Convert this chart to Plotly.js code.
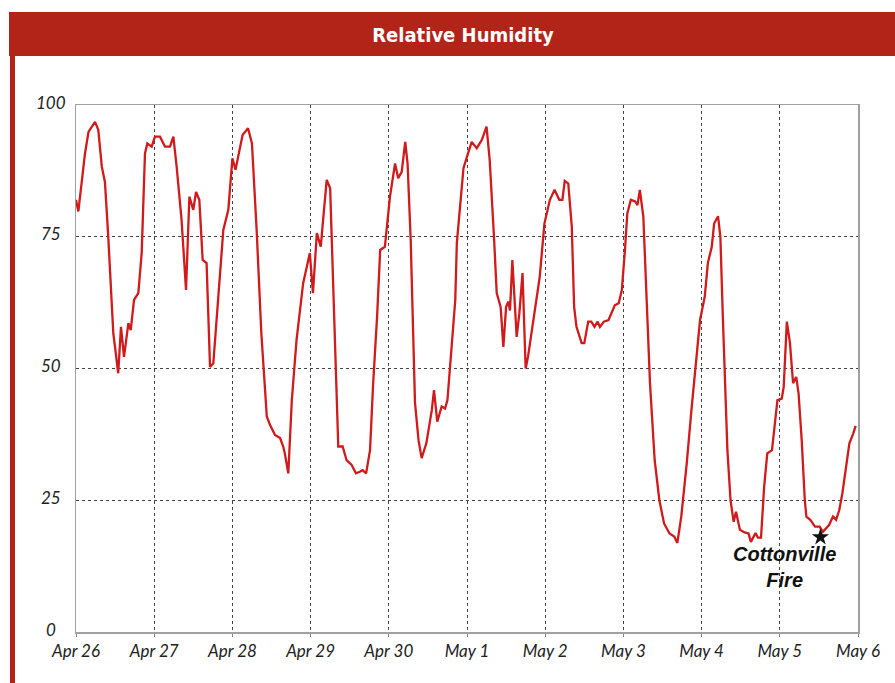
<!DOCTYPE html>
<html>
<head>
<meta charset="utf-8">
<script src="https://cdn.plot.ly/plotly-3.0.1.min.js"></script>
<style>
  html, body { margin: 0; padding: 0; background: #ffffff; }
  #chart { width: 895px; height: 683px; }
</style>
</head>
<body>
<div id="chart"></div>
<script>
// Time in days since Apr 26 00:00
var timeDays = [
  0.0, 0.03, 0.115, 0.16, 0.243, 0.285, 0.33, 0.37, 0.41, 0.477, 0.54, 0.575, 0.614, 0.67, 0.7, 0.742, 0.797, 0.84,
  0.882, 0.912, 0.968, 1.01, 1.074, 1.138, 1.202, 1.245, 1.287, 1.35, 1.407, 1.45, 1.5, 1.535, 1.577, 1.62, 1.67,
  1.714, 1.756, 1.82, 1.884, 1.948, 2.0, 2.04, 2.13, 2.2, 2.25, 2.31, 2.37, 2.44, 2.48, 2.545, 2.61, 2.65, 2.67,
  2.715, 2.74, 2.76, 2.82, 2.905, 2.99, 3.03, 3.08, 3.13, 3.16, 3.206, 3.25, 3.28, 3.33, 3.354, 3.41, 3.46, 3.525,
  3.58, 3.63, 3.666, 3.71, 3.76, 3.80, 3.85, 3.89, 3.95, 4.015, 4.08, 4.12, 4.165, 4.21, 4.24, 4.28, 4.335, 4.38,
  4.42, 4.48, 4.55, 4.578, 4.62, 4.676, 4.72, 4.75, 4.80, 4.85, 4.87, 4.955, 5.0, 5.06, 5.125, 5.19, 5.25, 5.29,
  5.345, 5.38, 5.43, 5.465, 5.5, 5.528, 5.55, 5.58, 5.635, 5.67, 5.71, 5.75, 5.78, 5.845, 5.93, 5.99, 6.06, 6.12,
  6.18, 6.22, 6.25, 6.295, 6.34, 6.37, 6.40, 6.466, 6.5, 6.55, 6.59, 6.63, 6.67, 6.70, 6.75, 6.81, 6.85, 6.89,
  6.94, 6.98, 7.02, 7.05, 7.095, 7.15, 7.18, 7.21, 7.255, 7.30, 7.34, 7.40, 7.46, 7.52, 7.59, 7.65, 7.69, 7.74,
  7.81, 7.87, 7.94, 7.98, 8.04, 8.08, 8.13, 8.16, 8.21, 8.24, 8.27, 8.30, 8.33, 8.37, 8.41, 8.44, 8.49, 8.55,
  8.60, 8.63, 8.69, 8.72, 8.76, 8.80, 8.84, 8.90, 8.94, 8.97, 9.025, 9.05, 9.09, 9.13, 9.17, 9.21, 9.24, 9.28,
  9.32, 9.34, 9.39, 9.45, 9.51, 9.55, 9.63, 9.68, 9.72, 9.76, 9.80, 9.85, 9.89, 9.94, 9.97
];
var relHumidity = [
  82, 79.8, 90.8, 94.9, 96.8, 95.3, 88.3, 85.4, 75.7, 56.7, 49.1, 57.9, 52.2, 58.6, 57.3, 63, 64.3, 71.9,
  90.8, 92.7, 92.1, 94, 94, 92.1, 92.1, 94, 88.3, 78.2, 64.9, 82.6, 80.1, 83.5, 82, 70.6, 70,
  50.3, 51, 63, 76.3, 80.1, 89.9, 87.7, 94.3, 95.6, 92.7, 76.3, 56.7, 40.9, 39.3, 37.4, 36.8, 35.2, 33.9,
  30.1, 38, 44, 55.4, 66.2, 71.9, 64.3, 75.7, 73.1, 78.2, 85.8, 84.2, 69.3, 45.3, 35.2, 35.2, 32.6, 31.7,
  30.1, 30.4, 30.7, 30.1, 34.5, 47.2, 59.8, 72.5, 73.1, 82.6, 88.9, 86.1, 87.3, 93, 88.9, 74.4, 43.5, 36.4,
  33, 35.8, 42.1, 45.9, 39.9, 42.8, 42.4, 44, 53.5, 63, 73.8, 88, 90.2, 93, 91.8, 93.4, 95.9, 89.6,
  75, 64.3, 61.7, 54.1, 61.7, 62.7, 61, 70.6, 56, 60.5, 68.1, 50, 52.2, 59.2, 67.4, 77.5, 82, 83.9,
  82, 82, 85.6, 85.1, 76.9, 61.7, 57.9, 54.8, 54.8, 58.9, 58.9, 57.9, 58.9, 57.9, 58.9, 59.2, 60.8, 62,
  62.4, 64.9, 72.5, 79.4, 82, 81.7, 81, 83.9, 78.8, 61.7, 47.2, 32.6, 25, 20.6, 18.7, 18.1, 16.9, 21.9,
  32, 42.1, 53.5, 59.2, 63.6, 70, 73.1, 77.5, 78.9, 75, 60.5, 48, 34.5, 25, 20.9, 22.8, 19.4, 18.9,
  18.7, 17.1, 18.8, 17.9, 17.9, 27.6, 33.9, 34.5, 39.6, 44, 44.3, 46.5, 58.9, 54.8, 47.2, 48.4, 45.3, 36.4,
  25, 21.9, 21.3, 20, 20, 19, 20.3, 21.9, 21.3, 23.1, 26.3, 31.4, 35.8, 37.7, 39.1
];
var xTickVals = [0, 1, 2, 3, 4, 5, 6, 7, 8, 9, 10];
var xTickText = ["Apr 26", "Apr 27", "Apr 28", "Apr 29", "Apr 30", "May 1", "May 2", "May 3", "May 4", "May 5", "May 6"];
var yTickVals = [0, 25, 50, 75, 100];
var yTickText = ["0", "25", "50", "75", "100"];
var fireTime = [9.52];
var fireValue = [18.0];
var fireLabel = "Cottonville<br>Fire";
var fireLabelPos = {x: 9.06, y: 12.4};
var chartTitle = "Relative Humidity";

var bannerRed = "#b22318";
var tickFont = {family: "Lato, 'Open Sans', sans-serif", size: 17, color: "#222", style: "italic"};

var traces = [
  {
    x: timeDays, y: relHumidity, type: "scatter", mode: "lines",
    line: {color: "#d01a1c", width: 2.3},
    hoverinfo: "skip", showlegend: false
  },
  {
    x: fireTime, y: fireValue, type: "scatter", mode: "markers",
    marker: {symbol: "star", size: 13, color: "#111"},
    hoverinfo: "skip", showlegend: false
  }
];

// y-axis labels, centred left of the axis as in the original
var yLabelAnnotations = yTickVals.map(function (v, i) {
  return {
    x: (51 - 76) / 782, xref: "paper", y: v, yref: "y",
    text: yTickText[i], showarrow: false,
    font: tickFont, xanchor: "center", yanchor: "middle", yshift: 3
  };
});

var layout = {
  width: 895, height: 683,
  margin: {l: 76, r: 37, t: 105, b: 51},
  paper_bgcolor: "#ffffff", plot_bgcolor: "#ffffff",
  title: {
    text: chartTitle,
    font: {family: "'DejaVu Sans Condensed', sans-serif", size: 20, color: "#ffffff", weight: "bold"},
    x: (463 / 895), xanchor: "center", xref: "container",
    y: 1 - 35 / 683, yanchor: "middle", yref: "container"
  },
  xaxis: {
    range: [0, 10],
    tickvals: xTickVals, ticktext: xTickText,
    tickfont: tickFont,
    ticks: "outside", ticklen: 3, tickcolor: "#888",
    showline: true, linecolor: "#a0a0a0", linewidth: 1.5, mirror: true,
    showgrid: true, gridcolor: "#444", griddash: "dot", gridwidth: 1,
    zeroline: false, fixedrange: true
  },
  yaxis: {
    range: [0, 100],
    tickvals: yTickVals,
    showticklabels: false, ticks: "",
    showline: true, linecolor: "#a0a0a0", linewidth: 1.5, mirror: true,
    showgrid: true, gridcolor: "#444", griddash: "dot", gridwidth: 1,
    zeroline: false, fixedrange: true
  },
  shapes: [
    {type: "rect", xref: "paper", yref: "paper",
     x0: (9 - 76) / 782, x1: (895 - 76) / 782, y0: (632 - 56) / 527, y1: (632 - 12) / 527,
     fillcolor: bannerRed, line: {width: 0}},
    {type: "rect", xref: "paper", yref: "paper",
     x0: (10 - 76) / 782, x1: (15 - 76) / 782, y0: (632 - 690) / 527, y1: (632 - 55) / 527,
     fillcolor: bannerRed, line: {width: 0}}
  ],
  annotations: yLabelAnnotations.concat([
    {x: fireLabelPos.x, y: fireLabelPos.y, xref: "x", yref: "y", text: fireLabel, showarrow: false,
     font: {family: "'Liberation Sans', sans-serif", size: 20, color: "#111", weight: "bold", style: "italic"},
     align: "center", xanchor: "center", yanchor: "middle"}
  ])
};

Plotly.newPlot("chart", traces, layout, {displayModeBar: false, staticPlot: true});
</script>
</body>
</html>
